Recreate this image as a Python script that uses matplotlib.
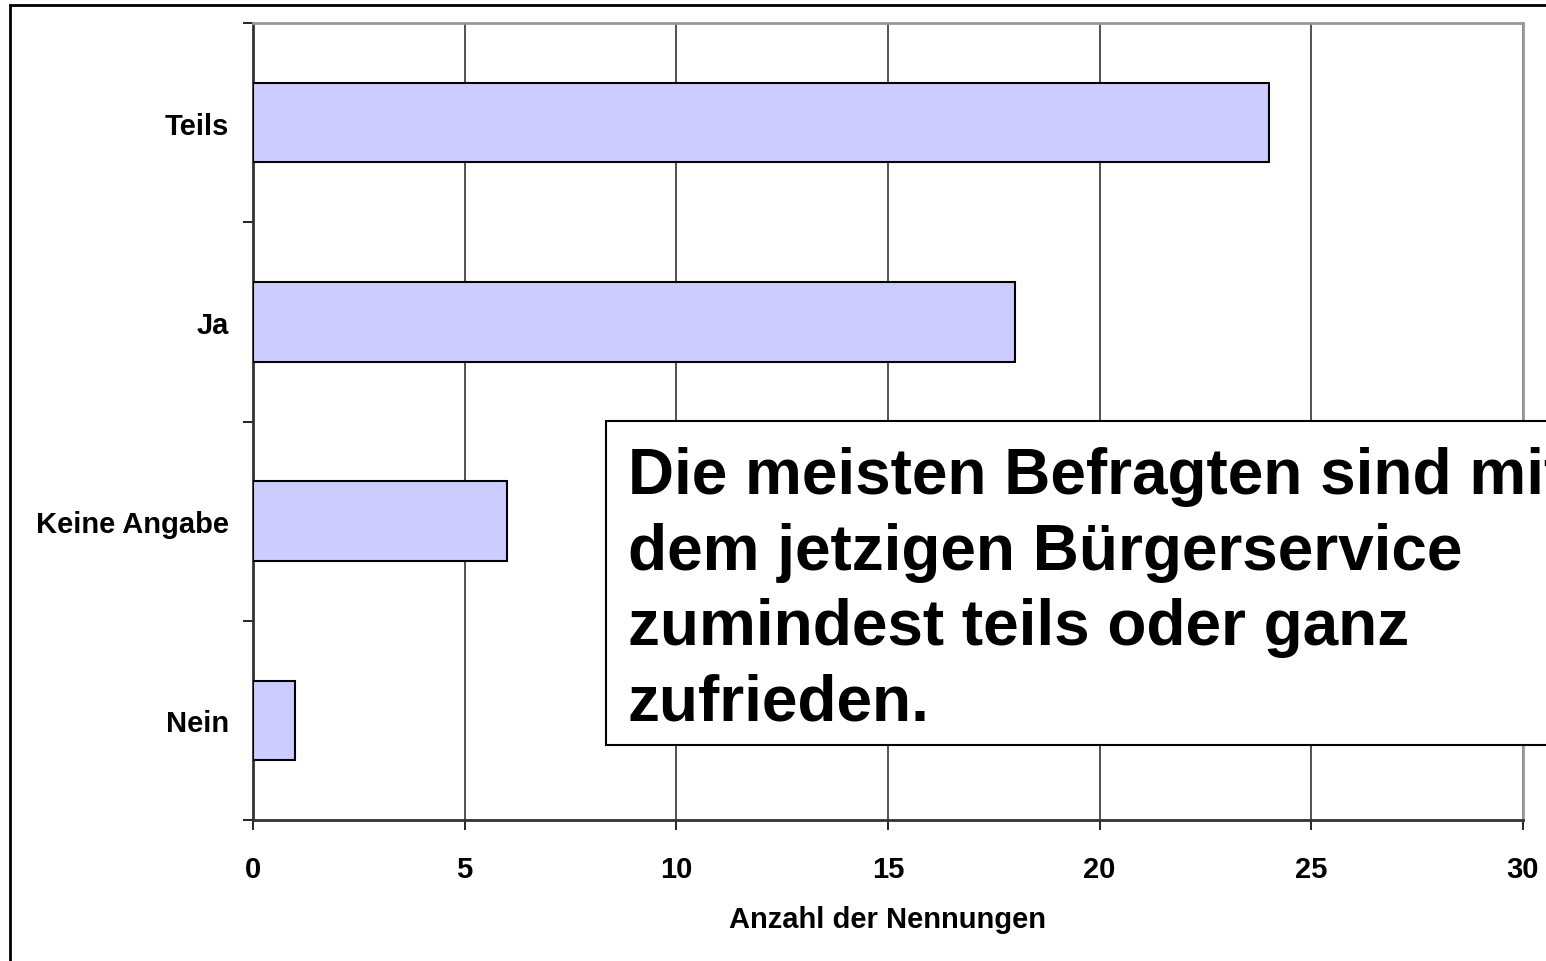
import matplotlib
matplotlib.use("Agg")
import matplotlib.pyplot as plt
from matplotlib.patches import Rectangle

plt.rcParams['font.family'] = ['Liberation Sans', 'DejaVu Sans']

categories = ["Nein", "Keine Angabe", "Ja", "Teils"]
counts = [1, 6, 18, 24]
xticks = [0, 5, 10, 15, 20, 25, 30]
note = ("Die meisten Befragten sind mit\n"
        "dem jetzigen Bürgerservice\n"
        "zumindest teils oder ganz\n"
        "zufrieden.")

W, H = 1546, 962
fig = plt.figure(figsize=(W / 100, H / 100), dpi=100)

# outer chart frame (runs off the right and bottom edge)
fig.patches.append(Rectangle((10 / W, -0.1), 1.2, 1 - 6 / H + 0.1,
                             transform=fig.transFigure, fill=False,
                             edgecolor="black", linewidth=2))

ax = fig.add_axes([253 / W, 1 - 821 / H, (1523 - 253) / W, (821 - 24) / H])
ypos = range(len(categories))
ax.barh(ypos, counts, height=0.4, color="#ccccff", edgecolor="black",
        linewidth=1.5, zorder=3)

ax.set_xlim(0, 30)
ax.set_ylim(-0.5, len(categories) - 0.5)
ax.set_xticks(xticks)
ax.set_xticklabels([str(t) for t in xticks], fontsize=21, fontweight="bold")
ax.set_yticks(list(ypos))
ax.set_yticklabels(categories, fontsize=21, fontweight="bold")
ax.set_yticks([i - 0.5 for i in range(len(categories) + 1)], minor=True)
ax.tick_params(axis="y", which="major", length=0, pad=17)
ax.tick_params(axis="y", which="minor", length=7, width=1.2, direction="out")
ax.tick_params(axis="x", length=7, width=1.2, pad=18)
ax.grid(axis="x", color="#333333", linewidth=1.2, zorder=0)
ax.set_axisbelow(True)

ax.spines["left"].set_color("#333333")
ax.spines["bottom"].set_color("#333333")
ax.spines["left"].set_linewidth(2)
ax.spines["bottom"].set_linewidth(2)
ax.spines["top"].set_color("#999999")
ax.spines["right"].set_color("#999999")
ax.spines["top"].set_linewidth(2)
ax.spines["right"].set_linewidth(2)

ax.set_xlabel("Anzahl der Nennungen", fontsize=21, fontweight="bold", labelpad=16)

# annotation box, also running off the right edge
fig.patches.append(Rectangle((606 / W, 1 - 746 / H), 1000 / W, (746 - 422) / H,
                             transform=fig.transFigure, facecolor="white",
                             edgecolor="black", linewidth=1.5, zorder=5))
fig.text(628 / W, 1 - 447 / H, note, fontsize=46, fontweight="bold",
         va="top", ha="left", linespacing=1.33, zorder=6)

fig.savefig("out.png", dpi=100)
